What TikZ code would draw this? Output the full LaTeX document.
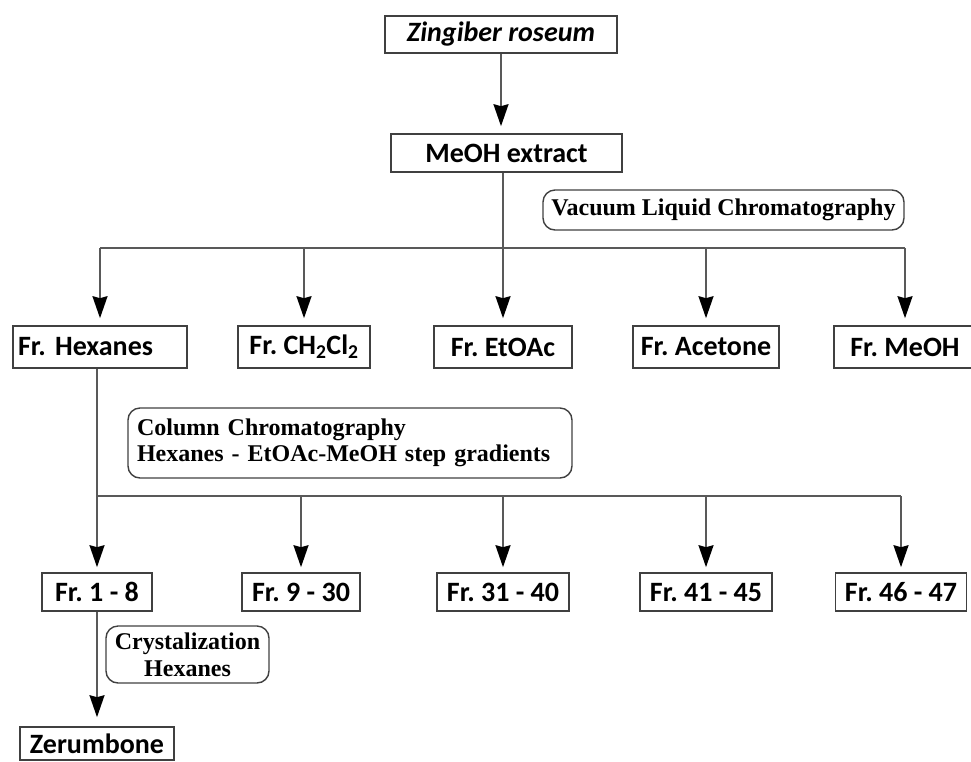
\documentclass[tikz,border=0pt]{standalone}
\usepackage{fontspec}
\setmainfont{Carlito}
\newfontfamily\timesfont{Liberation Serif}
\usetikzlibrary{arrows.meta}
\frenchspacing

\begin{document}
\begin{tikzpicture}
[x=1pt,y=-1pt,
 fraction/.style={draw=black!75,line width=1.6pt,inner sep=0pt,minimum height=40pt,
   font=\fontsize{28}{32}\selectfont\bfseries},
 method/.style={draw=black!75,line width=1.4pt,rounded corners=12pt,inner sep=0pt,
   font=\fontsize{24}{26}\selectfont\timesfont\bfseries},
 link/.style={black!65,line width=1.8pt},
 flow/.style={link,-{Stealth[length=22pt,width=15pt,inset=2pt,black]}}]
\useasboundingbox (0,0) rectangle (971,761);
\node (zr) at (501,34.5) [fraction,minimum width=232pt,minimum height=37pt] {\itshape Zingiber roseum};
\node (me) at (506.5,153) [fraction,minimum width=231pt,minimum height=38pt] {MeOH extract};
\node (vlc) at (723.5,210) [method,minimum width=361pt,minimum height=40pt] {Vacuum Liquid Chromatography};
\coordinate (b1) at (504,248);
\node (fh) at (100,347) [fraction,text width=164pt,inner xsep=5pt,minimum height=42pt,align=left] {Fr. Hexanes};
\node (fc) at (304,347) [fraction,minimum width=132pt,minimum height=42pt] {Fr. CH\textsubscript{2}Cl\textsubscript{2}};
\node (fe) at (503,347) [fraction,minimum width=138pt,minimum height=42pt] {Fr. EtOAc};
\node (fa) at (706,347) [fraction,minimum width=146pt,minimum height=42pt] {Fr. Acetone};
\node (fm) at (905,347) [fraction,minimum width=142pt,minimum height=42pt] {Fr. MeOH};
\node (cc) at (350,443) [method,minimum width=444pt,minimum height=70pt,text width=426pt,align=left]
  {Column Chromatography\\Hexanes - EtOAc-MeOH step gradients};
\coordinate (b2) at (97,496);
\node (f1) at (97,592) [fraction,minimum width=110pt,minimum height=38pt] {Fr. 1 - 8};
\node (f9) at (301,592) [fraction,minimum width=118pt,minimum height=38pt] {Fr. 9 - 30};
\node (f31) at (503,592) [fraction,minimum width=132pt,minimum height=38pt] {Fr. 31 - 40};
\node (f41) at (706,592) [fraction,minimum width=132pt,minimum height=38pt] {Fr. 41 - 45};
\node (f46) at (901,592) [fraction,minimum width=131pt,minimum height=38pt] {Fr. 46 - 47};
\node (cr) at (187.5,654.5) [method,minimum width=163pt,minimum height=57pt,align=center,
  font=\fontsize{24}{27}\selectfont\timesfont\bfseries] {Crystalization\\Hexanes};
\node (zb) at (97,743.5) [fraction,minimum width=154pt,minimum height=33pt] {Zerumbone};
% extraction
\draw [flow,shorten >=7pt] (zr.south) -- (zr.south |- me.north);
\draw [flow,shorten >=7pt] (me.south -| fe.north) -- (fe.north);
\draw [link] (fh.north |- b1) -- (fm.north |- b1);
\foreach \f in {fh,fc,fa,fm}
  \draw [flow,shorten >=7pt] (\f.north |- b1) -- (\f.north);
% column
\draw [flow,shorten >=5pt] (fh.south -| f1.north) -- (f1.north);
\draw [link] (f1.north |- b2) -- (f46.north |- b2);
\foreach \f in {f9,f31,f41,f46}
  \draw [flow,shorten >=5pt] (\f.north |- b2) -- (\f.north);
\draw [flow,shorten >=9pt] (f1.south) -- (zb.north);
\end{tikzpicture}
\end{document}
